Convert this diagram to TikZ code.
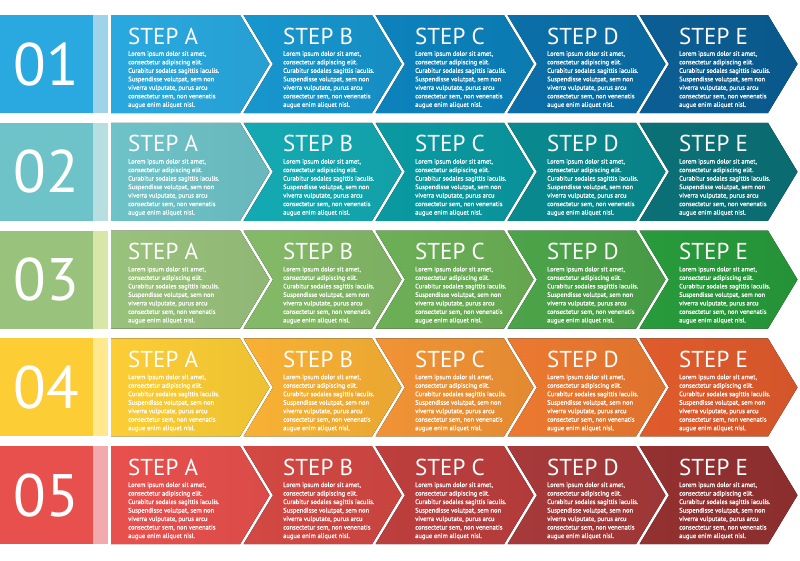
\documentclass[tikz,border=0pt]{standalone}
\usepackage{fontspec}
\setmainfont{PT Sans}
\newfontfamily\bodyfont{PT Sans}[RawFeature={embolden=0.9}]

% Row palettes: A..E for the steps, S for the thin strip
\definecolor{blueA}{HTML}{29A9E0}
\definecolor{blueB}{HTML}{1796CE}
\definecolor{blueC}{HTML}{0C82BC}
\definecolor{blueD}{HTML}{0B6FA8}
\definecolor{blueE}{HTML}{0B5E94}
\definecolor{blueS}{HTML}{9ED3EA}
\definecolor{tealA}{HTML}{6EC3C8}
\definecolor{tealB}{HTML}{14AAB3}
\definecolor{tealC}{HTML}{0A9AA2}
\definecolor{tealD}{HTML}{098A8F}
\definecolor{tealE}{HTML}{0B7177}
\definecolor{tealS}{HTML}{B7DEE1}
\definecolor{greenA}{HTML}{99C27C}
\definecolor{greenB}{HTML}{84BA67}
\definecolor{greenC}{HTML}{6CB056}
\definecolor{greenD}{HTML}{4CA449}
\definecolor{greenE}{HTML}{289B3B}
\definecolor{greenS}{HTML}{D8E7A8}
\definecolor{orangeA}{HTML}{FCCD35}
\definecolor{orangeB}{HTML}{F8B134}
\definecolor{orangeC}{HTML}{F19335}
\definecolor{orangeD}{HTML}{EC7930}
\definecolor{orangeE}{HTML}{E05B2C}
\definecolor{orangeS}{HTML}{FFE98C}
\definecolor{redA}{HTML}{E8504D}
\definecolor{redB}{HTML}{D34843}
\definecolor{redC}{HTML}{BD3F3E}
\definecolor{redD}{HTML}{A73A3A}
\definecolor{redE}{HTML}{943131}
\definecolor{redS}{HTML}{F3AAAC}

\newcommand{\loremtext}{Lorem ipsum dolor sit amet,\\consectetur adipiscing elit.\\Curabitur sodales sagittis iaculis.\\Suspendisse volutpat, sem non\\viverra vulputate, purus arcu\\consectetur sem, non venenatis\\augue enim aliquet nisl.}

\begin{document}
\begin{tikzpicture}[x=1pt,y=-1pt,
    rownum/.style={text=white, inner sep=0pt, font=\fontsize{60}{60}\selectfont},
    stephead/.style={text=white, anchor=base west, inner sep=0pt, font=\fontsize{23}{23}\selectfont},
    stepbody/.style={text=white, anchor=north west, inner sep=0pt, align=left, font=\bodyfont\fontsize{6.5}{8.5}\selectfont}]

\useasboundingbox (0,0) rectangle (800,560);

% One row per colour
\foreach \r/\num/\pal in {0/01/blue,1/02/teal,2/03/green,3/04/orange,4/05/red}
{
    \pgfmathsetmacro{\ytop}{15+107.8*\r}
    \pgfmathsetmacro{\ybot}{\ytop+98}
    \pgfmathsetmacro{\ymid}{\ytop+49}

    % Number box and strip
    \fill[\pal A] (0,\ytop) rectangle (93,\ybot);
    \fill[\pal S] (93,\ytop) rectangle (108,\ybot);
    \node[rownum] (num\r) at (46.5,\ymid) {\num};

    % Arrows A to E
    \foreach \k/\lab in {0/A,1/B,2/C,3/D,4/E}
    {
        \pgfmathsetmacro{\xr}{240+132*\k}
        \pgfmathsetmacro{\xl}{\k==0 ? 111 : \xr-128.5}
        \pgfmathsetmacro{\dn}{\k==0 ? 0 : 29.5}
        \pgfmathsetmacro{\xt}{\k==0 ? 128 : \xl+39.5}
        \fill[left color=\pal\lab, right color=\pal\lab!94!black]
            (\xl,\ytop) -- (\xr,\ytop) -- (\xr+29.5,\ymid) -- (\xr,\ybot)
            -- (\xl,\ybot) -- (\xl+\dn,\ymid) -- cycle;
        \node[stephead] (head\r\lab) at (\xt,\ytop+29) {STEP \lab};
        \node[stepbody] (body\r\lab) at (\xt,\ytop+36) {\loremtext};
    }
}

\end{tikzpicture}
\end{document}
